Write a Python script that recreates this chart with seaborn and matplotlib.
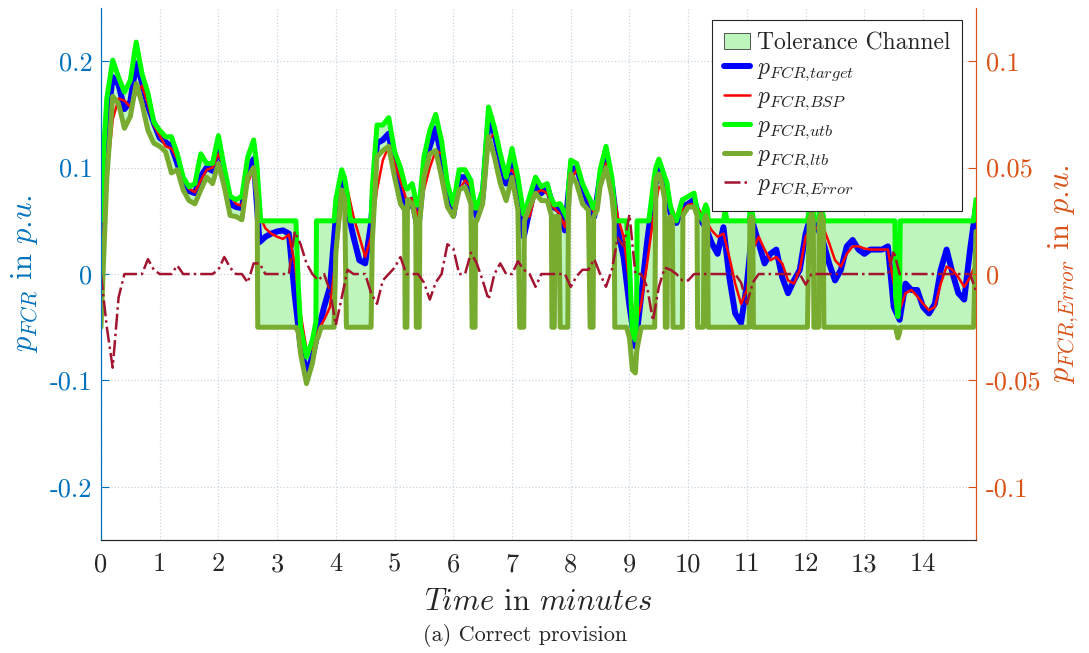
"""FCR provision: target vs. BSP power with tolerance channel (correct provision)."""
import numpy as np
import pandas as pd
import matplotlib
matplotlib.use("Agg")
import matplotlib.pyplot as plt
import seaborn as sns

# time grid for target / BSP / error, in minutes (0.1 min steps)
time_min = np.round(np.arange(150) * 0.1, 1)

p_target = [
    0.02, 0.14, 0.185, 0.178, 0.155, 0.162, 0.198, 0.18, 0.158, 0.142,
    0.128, 0.124, 0.12, 0.104, 0.088, 0.078, 0.076, 0.092, 0.1, 0.097,
    0.122, 0.094, 0.066, 0.063, 0.062, 0.098, 0.108, 0.03, 0.035, 0.038,
    0.04, 0.041, 0.038, -0.02, -0.068, -0.093, -0.078, -0.053, -0.031, -0.012,
    0.054, 0.088, 0.06, 0.035, 0.013, 0.01, 0.048, 0.123, 0.126, 0.132,
    0.1, 0.082, 0.06, 0.07, 0.041, 0.098, 0.12, 0.137, 0.11, 0.07,
    0.055, 0.091, 0.091, 0.079, 0.054, 0.073, 0.145, 0.132, 0.107, 0.085,
    0.104, 0.082, 0.035, 0.06, 0.085, 0.076, 0.082, 0.063, 0.06, 0.041,
    0.098, 0.1, 0.082, 0.066, 0.054, 0.091, 0.113, 0.085, 0.041, 0.016,
    -0.03, -0.068, -0.02, 0.03, 0.072, 0.1, 0.079, 0.057, 0.048, 0.063,
    0.066, 0.07, 0.051, 0.044, 0.029, 0.019, 0.044, -0.003, -0.037, -0.046,
    -0.009, 0.048, 0.029, 0.01, 0.019, 0.023, -0.003, -0.018, -0.006, 0.004,
    0.038, 0.057, 0.044, 0.03, 0.01, -0.006, 0.004, 0.026, 0.032, 0.023,
    0.019, 0.023, 0.023, 0.023, 0.026, -0.031, -0.043, -0.009, -0.015, -0.015,
    -0.031, -0.037, -0.028, 0.004, 0.023, 0.001, -0.018, -0.024, 0.023, 0.063,
]

p_bsp = [
    0.0, 0.09, 0.145, 0.165, 0.163, 0.157, 0.17, 0.177, 0.16, 0.14,
    0.13, 0.12, 0.118, 0.108, 0.092, 0.08, 0.077, 0.088, 0.098, 0.1,
    0.113, 0.1, 0.075, 0.066, 0.064, 0.085, 0.1, 0.055, 0.043, 0.038,
    0.035, 0.033, 0.037, 0.01, -0.037, -0.071, -0.071, -0.053, -0.043, -0.031,
    0.016, 0.066, 0.079, 0.054, 0.035, 0.016, 0.035, 0.079, 0.107, 0.12,
    0.104, 0.088, 0.07, 0.071, 0.054, 0.079, 0.1, 0.116, 0.113, 0.088,
    0.063, 0.079, 0.088, 0.082, 0.063, 0.073, 0.126, 0.132, 0.113, 0.095,
    0.098, 0.088, 0.054, 0.054, 0.076, 0.079, 0.076, 0.063, 0.057, 0.044,
    0.088, 0.098, 0.085, 0.07, 0.057, 0.082, 0.104, 0.088, 0.054, 0.035,
    -0.01, -0.05, -0.028, 0.01, 0.051, 0.082, 0.079, 0.066, 0.051, 0.06,
    0.065, 0.066, 0.059, 0.051, 0.041, 0.035, 0.038, 0.016, -0.009, -0.028,
    -0.015, 0.023, 0.035, 0.023, 0.013, 0.016, 0.01, -0.006, -0.009, 0.004,
    0.035, 0.044, 0.043, 0.044, 0.029, 0.013, 0.007, 0.019, 0.026, 0.026,
    0.024, 0.023, 0.023, 0.023, 0.023, -0.009, -0.034, -0.018, -0.015, -0.021,
    -0.028, -0.034, -0.031, -0.009, 0.007, 0.004, -0.003, -0.012, -0.003, 0.01,
]

p_error = [
    0.0, -0.025, -0.044, -0.011, 0.0, 0.0, 0.0, 0.0, 0.007, 0.002,
    0.0, 0.0, 0.0, 0.004, 0.0, 0.0, 0.0, 0.0, 0.0, 0.0,
    0.002, 0.008, 0.003, 0.0, 0.0, -0.004, 0.005, 0.005, 0.0, 0.0,
    0.0, 0.0, 0.0, 0.02, 0.014, 0.005, 0.0, -0.003, 0.0, -0.008,
    -0.024, -0.011, 0.002, 0.0, 0.0, 0.0, -0.009, -0.014, -0.003, 0.0,
    0.003, 0.008, 0.0, 0.0, 0.0, -0.004, -0.012, -0.004, 0.0, 0.014,
    0.012, 0.0, 0.0, 0.01, 0.005, -0.003, -0.012, 0.0, 0.005, 0.0,
    0.0, 0.006, 0.002, 0.0, -0.006, 0.0, 0.0, 0.0, 0.0, 0.0,
    -0.006, -0.001, 0.002, 0.002, 0.007, 0.0, -0.006, 0.002, 0.017, 0.013,
    0.028, 0.0, 0.0, -0.006, -0.022, -0.006, 0.003, 0.002, 0.0, -0.003,
    -0.003, 0.0, 0.0, 0.0, 0.0, 0.0, 0.0, 0.0, 0.0, -0.004,
    -0.014, -0.004, 0.0, 0.0, 0.0, 0.0, 0.0, 0.0, 0.0, 0.0,
    -0.005, 0.0, 0.0, 0.0, 0.0, 0.0, 0.0, 0.0, 0.0, 0.0,
    0.0, 0.0, 0.0, 0.0, 0.0, 0.011, 0.0, 0.0, 0.0, 0.0,
    0.0, 0.0, 0.0, 0.0, 0.0, 0.0, 0.0, 0.0, 0.0, -0.008,
]

# tolerance channel breakpoints (own time base, minutes)
time_band = [
    0.0, 0.05, 0.1, 0.2, 0.3, 0.4, 0.5, 0.6, 0.7, 0.8, 0.9, 1.0, 1.1, 1.2, 1.3,
    1.4, 1.5, 1.6, 1.7, 1.8, 1.9, 2.0, 2.1, 2.2, 2.3, 2.4, 2.5, 2.6, 2.66, 2.67,
    2.72, 3.32, 3.36, 3.4, 3.5, 3.6, 3.66, 3.67, 3.7, 3.75, 3.97, 4.0, 4.1, 4.15, 4.18,
    4.25, 4.6, 4.62, 4.7, 4.8, 4.9, 5.0, 5.1, 5.17, 5.18, 5.21, 5.22, 5.3, 5.36, 5.37,
    5.42, 5.43, 5.5, 5.6, 5.7, 5.8, 5.9, 6.0, 6.1, 6.2, 6.3, 6.32, 6.37, 6.38, 6.4,
    6.5, 6.6, 6.7, 6.8, 6.9, 7.0, 7.1, 7.13, 7.2, 7.21, 7.3, 7.4, 7.5, 7.6, 7.67,
    7.68, 7.72, 7.73, 7.8, 7.82, 7.95, 7.96, 8.0, 8.1, 8.2, 8.3, 8.33, 8.38, 8.39, 8.45,
    8.5, 8.6, 8.7, 8.74, 8.75, 8.95, 9.0, 9.05, 9.1, 9.12, 9.13, 9.2, 9.33, 9.4, 9.43,
    9.45, 9.5, 9.55, 9.6, 9.61, 9.64, 9.65, 9.7, 9.73, 9.74, 9.8, 9.9, 9.91, 10.0, 10.1,
    10.15, 10.16, 10.26, 10.27, 10.3, 10.33, 10.34, 10.6, 10.63, 10.66, 11.04, 11.05, 11.08, 11.1, 11.11,
    12.03, 12.06, 12.1, 12.13, 12.14, 12.22, 12.23, 12.26, 12.3, 12.31, 13.52, 13.53, 13.57, 13.6, 13.61,
    14.86, 14.9,
]
p_utb = [
    0.05, 0.12, 0.165, 0.201, 0.185, 0.171, 0.182, 0.218, 0.188, 0.17, 0.143, 0.135, 0.129, 0.129, 0.113,
    0.091, 0.082, 0.085, 0.113, 0.104, 0.104, 0.13, 0.1, 0.073, 0.07, 0.073, 0.11, 0.126, 0.1, 0.09,
    0.05, 0.05, -0.01, -0.05, -0.078, -0.062, -0.045, 0.05, 0.05, 0.05, 0.05, 0.07, 0.098, 0.09, 0.08,
    0.05, 0.05, 0.08, 0.14, 0.14, 0.147, 0.115, 0.1, 0.085, 0.083, 0.08, 0.08, 0.085, 0.07, 0.065,
    0.065, 0.07, 0.11, 0.135, 0.15, 0.125, 0.085, 0.065, 0.098, 0.098, 0.088, 0.08, 0.062, 0.062, 0.062,
    0.079, 0.157, 0.138, 0.113, 0.091, 0.118, 0.091, 0.08, 0.056, 0.056, 0.073, 0.091, 0.082, 0.085, 0.07,
    0.07, 0.065, 0.065, 0.066, 0.066, 0.051, 0.08, 0.107, 0.104, 0.085, 0.073, 0.07, 0.062, 0.062, 0.07,
    0.098, 0.12, 0.091, 0.065, 0.05, 0.05, 0.01, -0.056, -0.062, -0.04, 0.05, 0.05, 0.05, 0.082, 0.095,
    0.1, 0.108, 0.1, 0.091, 0.09, 0.085, 0.08, 0.063, 0.058, 0.055, 0.05, 0.07, 0.07, 0.073, 0.076,
    0.06, 0.058, 0.05, 0.06, 0.065, 0.06, 0.05, 0.05, 0.06, 0.05, 0.05, 0.058, 0.06, 0.055, 0.05,
    0.05, 0.06, 0.063, 0.058, 0.05, 0.052, 0.058, 0.062, 0.055, 0.05, 0.05, -0.02, -0.04, -0.02, 0.05,
    0.05, 0.07,
]
p_ltb = [
    -0.05, 0.02, 0.09, 0.167, 0.16, 0.137, 0.148, 0.179, 0.16, 0.135, 0.123, 0.12, 0.115, 0.095, 0.098,
    0.079, 0.069, 0.066, 0.079, 0.091, 0.085, 0.104, 0.082, 0.055, 0.054, 0.051, 0.091, 0.1, 0.07, -0.05,
    -0.05, -0.05, -0.055, -0.075, -0.103, -0.084, -0.065, -0.062, -0.059, -0.05, -0.05, 0.02, 0.079, 0.07, -0.05,
    -0.05, -0.05, 0.03, 0.11, 0.116, 0.12, 0.091, 0.066, 0.06, -0.05, -0.05, 0.07, 0.066, 0.05, -0.05,
    -0.05, 0.05, 0.091, 0.113, 0.116, 0.091, 0.063, 0.054, 0.079, 0.082, 0.066, -0.05, -0.05, 0.05, 0.05,
    0.066, 0.129, 0.11, 0.085, 0.069, 0.091, 0.06, -0.05, -0.05, 0.05, 0.063, 0.076, 0.069, 0.069, 0.055,
    -0.05, -0.05, 0.054, 0.054, -0.05, -0.05, 0.06, 0.094, 0.085, 0.066, 0.06, -0.05, -0.05, 0.054, 0.06,
    0.082, 0.1, 0.073, 0.05, -0.05, -0.05, -0.06, -0.09, -0.093, -0.075, -0.07, -0.05, -0.05, -0.05, -0.05,
    0.09, 0.094, 0.085, 0.07, -0.05, -0.05, 0.05, 0.054, 0.05, -0.05, -0.05, -0.05, 0.055, 0.063, 0.063,
    0.055, -0.05, -0.05, 0.05, 0.055, 0.05, -0.05, -0.05, -0.05, -0.05, -0.05, 0.05, 0.054, 0.05, -0.05,
    -0.05, 0.05, 0.057, 0.05, -0.05, -0.05, 0.05, 0.057, 0.05, -0.05, -0.05, -0.05, -0.06, -0.055, -0.05,
    -0.05, 0.04,
]

left_ticks = [-0.2, -0.1, 0, 0.1, 0.2]
left_labels = ["-0.2", "-0.1", "0", "0.1", "0.2"]
right_ticks = [-0.1, -0.05, 0, 0.05, 0.1]
right_labels = ["-0.1", "-0.05", "0", "0.05", "0.1"]
minute_ticks = list(range(15))

BLUE_AX = "#0072BD"
ORANGE_AX = "#D95319"

df = pd.DataFrame({"t": time_min, "target": p_target, "bsp": p_bsp, "err": p_error})
band = pd.DataFrame({"t": time_band, "utb": p_utb, "ltb": p_ltb})

sns.set_style("white")
plt.rcParams["font.family"] = ["cmr10"]
plt.rcParams["mathtext.fontset"] = "cm"
plt.rcParams["axes.unicode_minus"] = False

fig = plt.figure(figsize=(10.89, 6.53), dpi=100)
ax = fig.add_axes([0.0927, 0.173, 0.8035, 0.8147])

ax.fill_between(band["t"], band["ltb"], band["utb"], facecolor="#BDF5BD",
                edgecolor="#3a3a3a", linewidth=0.6, zorder=1, label="Tolerance Channel")
sns.lineplot(data=df, x="t", y="target", ax=ax, color="#0000FF", lw=4.3,
             estimator=None, label=r"$p_{FCR{,}target}$", zorder=2)
sns.lineplot(data=df, x="t", y="bsp", ax=ax, color="#FF0000", lw=1.8,
             estimator=None, label=r"$p_{FCR{,}BSP}$", zorder=3)
sns.lineplot(data=band, x="t", y="utb", ax=ax, color="#00FF00", lw=3.6,
             estimator=None, label=r"$p_{FCR{,}utb}$", zorder=4)
sns.lineplot(data=band, x="t", y="ltb", ax=ax, color="#77AC30", lw=3.6,
             estimator=None, label=r"$p_{FCR{,}ltb}$", zorder=5)

ax2 = ax.twinx()
sns.lineplot(data=df, x="t", y="err", ax=ax2, color="#A2142F", lw=1.8,
             estimator=None, label=r"$p_{FCR{,}Error}$")
ax2.lines[0].set_linestyle("-.")

h1, l1 = ax.get_legend_handles_labels()
h2, l2 = ax2.get_legend_handles_labels()
ax.get_legend().remove()
ax2.get_legend().remove()

ax.set_xlim(0, 14.9)
ax.set_ylim(-0.25, 0.25)
ax2.set_ylim(-0.125, 0.125)
ax.set_xticks(minute_ticks)
ax.set_xticklabels([str(m) for m in minute_ticks])
ax.set_yticks(left_ticks)
ax.set_yticklabels(left_labels)
ax2.set_yticks(right_ticks)
ax2.set_yticklabels(right_labels)

ax.grid(True, linestyle=":", color="#c9d6e0", lw=0.9)
ax.set_axisbelow(True)

ax.tick_params(axis="x", direction="in", length=6, width=0.8, colors="#262626",
               labelsize=19, pad=9)
ax.tick_params(axis="y", direction="in", length=6, width=0.8, colors=BLUE_AX,
               labelsize=19, pad=6)
ax2.tick_params(axis="y", direction="in", length=6, width=0.8, colors=ORANGE_AX,
                labelsize=19, pad=7)

for a in (ax, ax2):
    a.spines["top"].set_visible(False)
    a.spines["left"].set_color(BLUE_AX)
    a.spines["right"].set_color(ORANGE_AX)
    a.spines["bottom"].set_color("#262626")
    for s in a.spines.values():
        s.set_linewidth(0.8)

ax.set_xlabel(r"$Time$ in $minutes$", fontsize=22, color="#262626", labelpad=9)
ax.set_ylabel(r"$p_{FCR}$ in $p$.$u$.", fontsize=22, color=BLUE_AX, labelpad=7)
ax2.set_ylabel(r"$p_{FCR{,}Error}$ in $p$.$u$.", fontsize=22, color=ORANGE_AX, labelpad=4)

leg = ax2.legend(h1 + h2, l1 + l2, loc="upper right", bbox_to_anchor=(0.984, 0.977),
                 borderaxespad=0, fontsize=17, frameon=True, fancybox=False,
                 handlelength=1.1, handletextpad=0.3, labelspacing=0.12, borderpad=0.5)
leg.get_frame().set_edgecolor("#262626")
leg.get_frame().set_linewidth(0.8)
leg.get_frame().set_alpha(1)

fig.text(0.482, 0.027, "(a) Correct provision", ha="center", va="center", fontsize=16)

fig.savefig("out.png", dpi=100)
